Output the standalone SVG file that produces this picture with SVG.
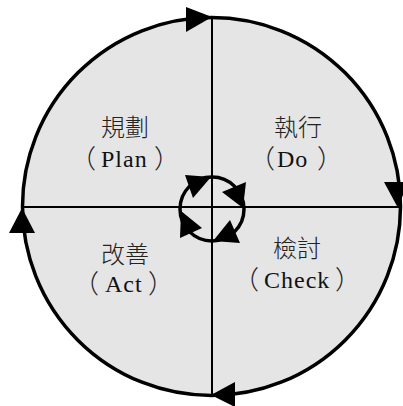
<svg xmlns="http://www.w3.org/2000/svg" width="403" height="406" viewBox="0 0 403 406">
<style>
.cjk{font-family:"Noto Sans CJK TC","Noto Sans CJK SC",sans-serif;font-size:24px;font-weight:300;fill:#222;text-anchor:middle}
.lat{font-family:"Liberation Serif",serif;font-size:24px;letter-spacing:1px;fill:#111}
.par{font-family:"Noto Sans CJK TC","Noto Sans CJK SC",sans-serif;font-size:26px;font-weight:300;fill:#222}
.ring{fill:none;stroke:#000;stroke-width:3.5}
.axis{stroke:#000;stroke-width:2}
.head{fill:#000}
</style>
<rect width="403" height="406" fill="#fff"/>
<g id="cycle">
<circle cx="211.5" cy="206.5" r="189" fill="#e5e5e5" stroke="#000" stroke-width="3.5"/>
</g>
<g id="connectors">
<line class="axis" x1="21" y1="207" x2="401" y2="207"/>
<line class="axis" x1="212" y1="17" x2="212" y2="396"/>
<polygon class="head" points="186,7 186,32 212,17"/>
<polygon class="head" points="384,182 408,182 398,208"/>
<polygon class="head" points="235,382 235,407 211,395"/>
<polygon class="head" points="9,233 35,233 22,208"/>
<circle class="ring" cx="212" cy="209" r="32"/>
<polygon class="head" points="185,175 193,198 211,177"/>
<polygon class="head" points="246,182 222,192 243,208"/>
<polygon class="head" points="230,220 240,243 213,241"/>
<polygon class="head" points="202,228 180,238 181,211"/>
</g>
<g id="plan">
<text class="cjk" x="125" y="136">規劃</text>
<text class="par" x="70" y="168">（</text>
<text class="lat" x="101" y="167">Plan</text>
<text class="par" x="154" y="168">）</text>
</g>
<g id="do">
<text class="cjk" x="298" y="136">執行</text>
<text class="par" x="249" y="168">（</text>
<text class="lat" x="277" y="167">Do</text>
<text class="par" x="317" y="168">）</text>
</g>
<g id="act">
<text class="cjk" x="125" y="263">改善</text>
<text class="par" x="73" y="293">（</text>
<text class="lat" x="105" y="292">Act</text>
<text class="par" x="148" y="293">）</text>
</g>
<g id="check">
<text class="cjk" x="297" y="257">檢討</text>
<text class="par" x="233" y="289">（</text>
<text class="lat" x="264" y="288">Check</text>
<text class="par" x="335" y="289">）</text>
</g>
</svg>
